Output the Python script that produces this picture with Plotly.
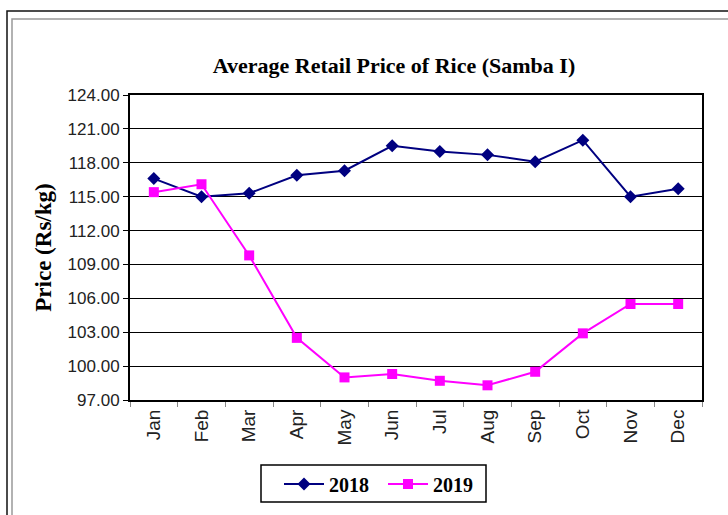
import plotly.graph_objects as go

months = ["Jan", "Feb", "Mar", "Apr", "May", "Jun", "Jul", "Aug", "Sep", "Oct", "Nov", "Dec"]
price_2018 = [116.6, 115.0, 115.3, 116.9, 117.3, 119.5, 119.0, 118.7, 118.1, 120.0, 115.0, 115.7]
price_2019 = [115.4, 116.1, 109.8, 102.5, 99.0, 99.3, 98.7, 98.3, 99.5, 102.9, 105.5, 105.5]
y_ticks = [97, 100, 103, 106, 109, 112, 115, 118, 121, 124]

W, H = 728, 515
L, R, T, B = 130, 26, 95, 115
pw, ph = W - L - R, H - T - B

def px(x):
    return (x - L) / pw

def py(y):
    return (H - B - y) / ph

fig = go.Figure()
fig.add_trace(go.Scatter(
    x=months, y=price_2018, name="2018", mode="lines+markers",
    line=dict(color="#000080", width=2),
    marker=dict(symbol="diamond", size=10, color="#000080"),
))
fig.add_trace(go.Scatter(
    x=months, y=price_2019, name="2019", mode="lines+markers",
    line=dict(color="#FF00FF", width=2),
    marker=dict(symbol="square", size=10, color="#FF00FF"),
))

fig.update_layout(
    width=W, height=H,
    margin=dict(l=L, r=R, t=T, b=B),
    paper_bgcolor="white", plot_bgcolor="white",
    title=dict(text="Average Retail Price of Rice (Samba I)",
               xref="container", x=394 / W, xanchor="center",
               yref="container", y=1 - 65 / H, yanchor="middle",
               font=dict(family="Liberation Serif", size=22, color="black", weight="bold")),
    showlegend=True,
    legend=dict(orientation="h", x=px(383), xanchor="center",
                y=py(484), yanchor="middle",
                borderwidth=0, bgcolor="rgba(0,0,0,0)",
                font=dict(family="Liberation Serif", size=20, color="black", weight="bold"),
                itemwidth=40, tracegroupgap=0, entrywidth=49),
    font=dict(family="Liberation Sans", color="#222222"),
)

fig.update_xaxes(
    type="category", range=[-0.5, len(months) - 0.5],
    tickangle=-90, tickson="boundaries",
    ticks="outside", ticklen=5, tickcolor="#888888",
    showline=True, linecolor="black", linewidth=2, mirror=True,
    showgrid=False, automargin=False,
    tickfont=dict(family="Liberation Sans", size=19, color="#222222"),
)
fig.update_yaxes(
    range=[97, 124], tickvals=y_ticks, tickformat=".2f",
    ticks="outside", ticklen=5, tickcolor="black",
    showline=True, linecolor="black", linewidth=2, mirror=True,
    showgrid=True, gridcolor="black", gridwidth=1, zeroline=False,
    automargin=False,
    tickfont=dict(family="Liberation Sans", size=17, color="#222222"),
    title=dict(text="Price (Rs/kg)", standoff=10,
               font=dict(family="Liberation Serif", size=23, color="black", weight="bold")),
)

# Outer chart frames
fig.add_shape(type="rect", xref="paper", yref="paper",
              x0=px(7), y0=py(11), x1=px(760), y1=py(560),
              line=dict(color="#111111", width=1.5), layer="below")
fig.add_shape(type="rect", xref="paper", yref="paper",
              x0=px(12), y0=py(19), x1=px(760), y1=py(560),
              line=dict(color="#999999", width=1.5), layer="below")
# Legend box
fig.add_shape(type="rect", xref="paper", yref="paper",
              x0=px(261), y0=py(465), x1=px(486), y1=py(502),
              line=dict(color="black", width=1.5), fillcolor="white", layer="below")

fig.write_html("out.html", config={"displayModeBar": False},
               post_script="document.body.style.margin='0';")
